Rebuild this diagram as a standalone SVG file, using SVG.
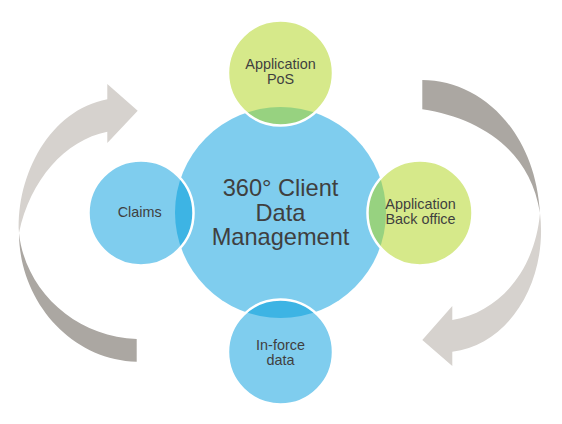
<svg xmlns="http://www.w3.org/2000/svg" width="562" height="424" viewBox="0 0 562 424">
<style>
.light{fill:#D6D2CE}
.dark{fill:#ABA7A2}
.blue{fill:#7FCDEE}
.green{fill:#D6E98A}
.lensB{fill:#3DB4E4}
.lensG{fill:#97D280}
.ring{fill:none;stroke:#FFFFFF;stroke-width:2.5}
text{font-family:"Liberation Sans",Arial,sans-serif;fill:#3F3F3F;text-anchor:middle}
.sm{font-size:14.4px}
.lg{font-size:23.6px}
</style>
<defs>
<clipPath id="bigClip"><circle cx="280.5" cy="212.5" r="105.5"/></clipPath>
</defs>
<g id="connectors">
<g id="arrow-left">
<path class="dark" d="M19,233 C19,300 70,360 136.7,361.7 L136.7,339 C75,337 25,290 19,233 Z"/>
<path class="light" d="M19,233 C16,175 50,110 107.3,99.3 L107.3,84 L137.7,110.7 L107.3,143 L107.3,131.7 C65,140 30,180 19,233 Z"/>
</g>
<g id="arrow-right">
<path class="dark" d="M422.3,80 C480,80 535,130 540,213 C530,150 480,118 422.3,109.3 Z"/>
<path class="light" d="M540,213 C548,280 510,345 452.3,351.7 L452.3,366 L422.3,340 L452.3,306 L452.3,320 C500,312 535,270 540,213 Z"/>
</g>
</g>
<g id="center">
<circle class="blue" cx="280.5" cy="212.5" r="105.5"/>
</g>
<g id="pos">
<circle class="green" cx="280.5" cy="73" r="52.5"/>
<circle class="lensG" cx="280.5" cy="73" r="52.5" clip-path="url(#bigClip)"/>
<circle class="ring" cx="280.5" cy="73" r="52.5"/>
<text class="sm" x="280.5" y="68.5">Application</text>
<text class="sm" x="280.5" y="84">PoS</text>
</g>
<g id="claims">
<circle class="blue" cx="141" cy="213" r="52.5"/>
<circle class="lensB" cx="141" cy="213" r="52.5" clip-path="url(#bigClip)"/>
<circle class="ring" cx="141" cy="213" r="52.5"/>
<text class="sm" x="139.7" y="217">Claims</text>
</g>
<g id="backoffice">
<circle class="green" cx="420" cy="213" r="52.5"/>
<circle class="lensG" cx="420" cy="213" r="52.5" clip-path="url(#bigClip)"/>
<circle class="ring" cx="420" cy="213" r="52.5"/>
<text class="sm" x="420.5" y="208.5">Application</text>
<text class="sm" x="420.5" y="224">Back office</text>
</g>
<g id="inforce">
<circle class="blue" cx="280.5" cy="352" r="52.5"/>
<circle class="lensB" cx="280.5" cy="352" r="52.5" clip-path="url(#bigClip)"/>
<circle class="ring" cx="280.5" cy="352" r="52.5"/>
<text class="sm" x="280.5" y="349.5">In-force</text>
<text class="sm" x="280.5" y="364.5">data</text>
</g>
<g id="title">
<text class="lg" x="280.5" y="196">360° Client</text>
<text class="lg" x="280.5" y="220.5">Data</text>
<text class="lg" x="280.5" y="245">Management</text>
</g>
</svg>
